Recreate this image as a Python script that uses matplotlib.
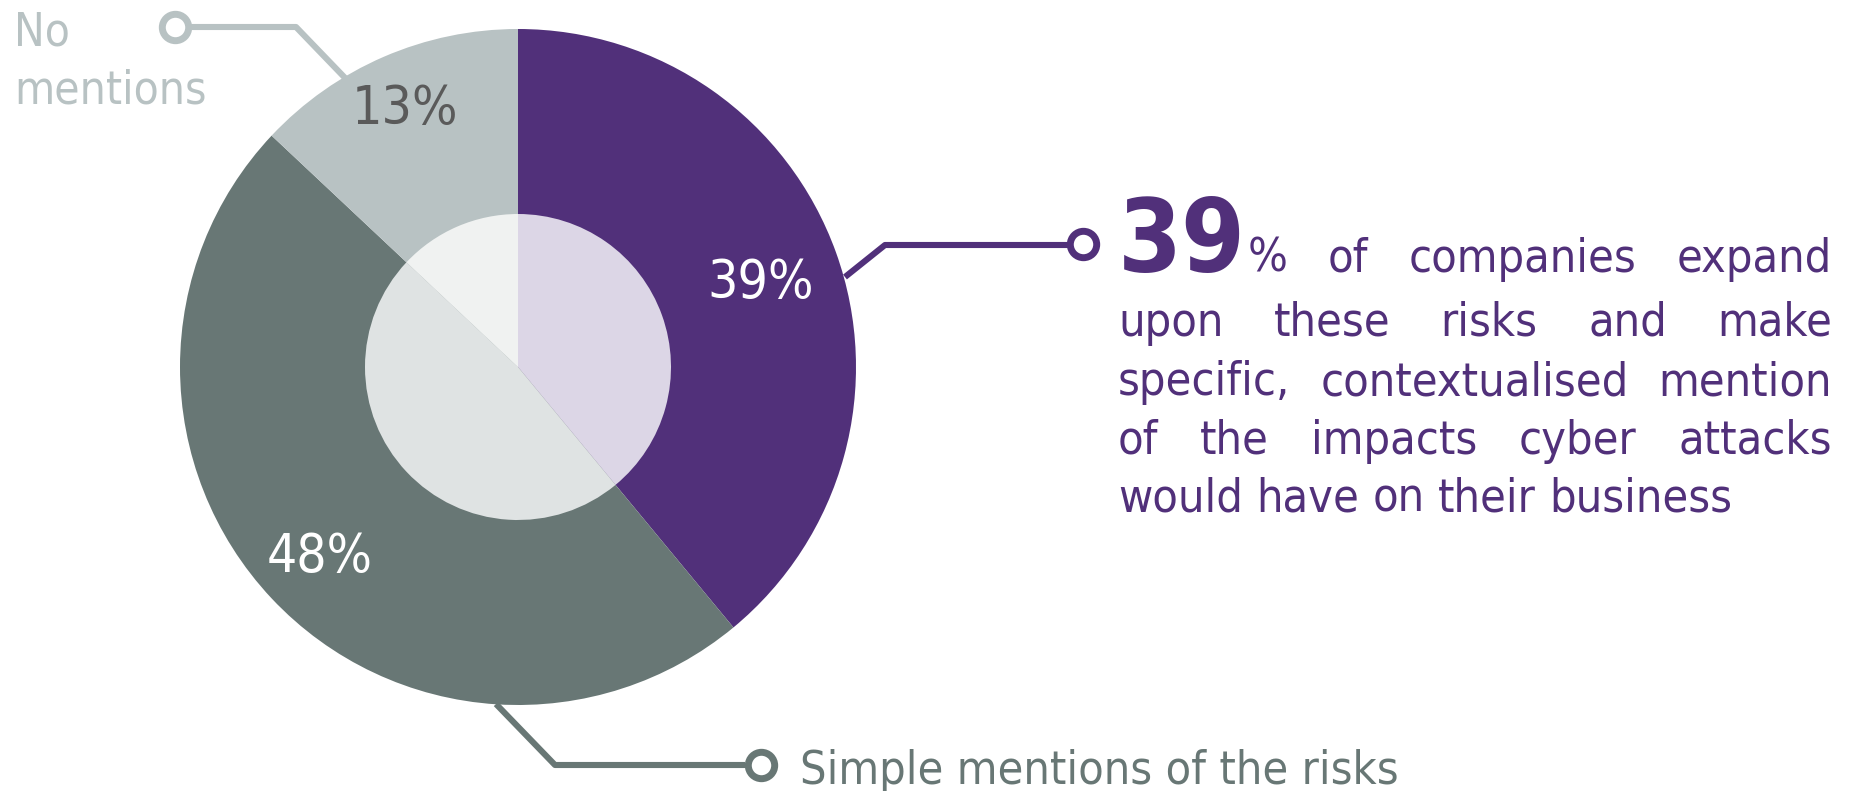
import matplotlib
matplotlib.use("Agg")
import matplotlib.pyplot as plt

# ---- data -------------------------------------------------------------
labels = ["Expanded, contextualised mentions", "Simple mentions of the risks", "No mentions"]
shares = [39, 48, 13]
pct_labels = ["39%", "48%", "13%"]

outer_colors = ["#51307A", "#687775", "#B8C2C3"]
inner_colors = ["#DCD6E6", "#DFE3E3", "#F0F2F1"]
label_colors = ["white", "white", "#5A5A5A"]

headline_value = "39"
headline_lines = [
    "% of companies expand",
    "upon these risks and make",
    "specific, contextualised mention",
    "of the impacts cyber attacks",
    "would have on their business",
]

PURPLE = "#51307A"
DARK = "#687775"
LIGHT = "#B8C2C3"

plt.rcParams["font.family"] = ["DejaVu Sans"]
plt.rcParams["font.stretch"] = "condensed"

W, H = 1850, 791
fig = plt.figure(figsize=(W / 100, H / 100), dpi=100)
ax = fig.add_axes([0, 0, 1, 1])
renderer = fig.canvas.get_renderer()


def y(py):
    # convert from top-based pixel rows
    return H - py


def text_width(s, size, **kw):
    t = ax.text(0, 0, s, fontsize=size, fontstretch="condensed", **kw)
    w = t.get_window_extent(renderer).width
    t.remove()
    return w


def fit_size(s, target, **kw):
    return 10 * target / text_width(s, 10, **kw)


# ---- donut ------------------------------------------------------------
cx, cy, r_out, r_in = 518, y(367), 338, 153
ax.pie(shares, colors=outer_colors, startangle=90, counterclock=False,
       center=(cx, cy), radius=r_out, frame=True,
       wedgeprops=dict(linewidth=0))
ax.pie(shares, colors=inner_colors, startangle=90, counterclock=False,
       center=(cx, cy), radius=r_in, frame=True,
       wedgeprops=dict(linewidth=0))
ax.set_xlim(0, W)
ax.set_ylim(0, H)
ax.set_aspect("equal")
ax.axis("off")

label_pos = [(761, 283), (320, 557), (405, 109)]
for s, (px, py), c in zip(pct_labels, label_pos, label_colors):
    ax.text(px, y(py), s, fontsize=fit_size(s, 106), color=c,
            fontstretch="condensed", ha="center", va="center")

# ---- connectors -------------------------------------------------------
lw = 4.4
ring = dict(ms=19, mfc="white", mew=5)
ax.plot([845, 885, 1068], [y(277), y(245), y(245)], color=PURPLE, lw=lw,
        solid_capstyle="butt")
ax.plot([1083], [y(244)], "o", mec=PURPLE, **ring)

ax.plot([348, 296, 189], [y(81), y(27), y(27)], color=LIGHT, lw=lw,
        solid_capstyle="butt")
ax.plot([175], [y(27)], "o", mec=LIGHT, **ring)

ax.plot([496, 555, 745], [y(704), y(765), y(765)], color=DARK, lw=lw,
        solid_capstyle="butt")
ax.plot([761], [y(765)], "o", mec=DARK, **ring)

# ---- side labels ------------------------------------------------------
side_size = fit_size("mentions", 192)
ax.text(14, y(45), "No", fontsize=side_size, color=LIGHT, ha="left",
        va="baseline", fontstretch="condensed")
ax.text(14, y(103), "mentions", fontsize=side_size, color=LIGHT, ha="left",
        va="baseline", fontstretch="condensed")
ax.text(800, y(784), labels[1], fontsize=fit_size(labels[1], 598),
        color=DARK, ha="left", va="baseline", fontstretch="condensed")

# ---- headline (justified block) ---------------------------------------
x0, x1 = 1118, 1832
baselines = [272, 336, 395, 454, 512]
body = fit_size(headline_lines[-1], 616)
big = fit_size(headline_value, 127, fontweight="bold")


def justify(words, left, right, base, last=False):
    widths = [text_width(w, body) for w in words]
    if last or len(words) == 1:
        gap = text_width("a b", body) - text_width("ab", body)
    else:
        gap = (right - left - sum(widths)) / (len(words) - 1)
    xx = left
    for w, wd in zip(words, widths):
        ax.text(xx, y(base), w, fontsize=body, color=PURPLE, ha="left",
                va="baseline", fontstretch="condensed")
        xx += wd + gap


ax.text(x0, y(baselines[0]), headline_value, fontsize=big,
        fontweight="bold", color=PURPLE, ha="left", va="baseline",
        fontstretch="condensed")
first = headline_lines[0].split()
pct_x = x0 + text_width(headline_value, big, fontweight="bold") + 2
justify(first, pct_x, x1, baselines[0])
for i, line in enumerate(headline_lines[1:], start=1):
    justify(line.split(), x0, x1, baselines[i],
            last=(i == len(headline_lines) - 1))

fig.savefig("out.png", dpi=100, facecolor="white")
